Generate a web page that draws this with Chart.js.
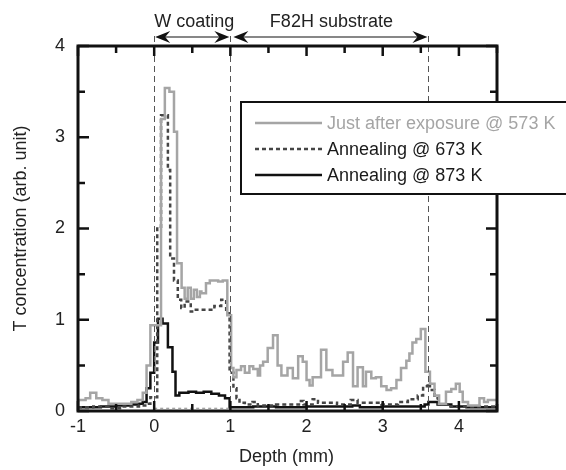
<!DOCTYPE html>
<html lang="en">
<head>
  <meta charset="UTF-8">
  <title>T concentration depth profile</title>
  <script src="https://cdn.jsdelivr.net/npm/chart.js"></script>
  <style>
    body { margin: 0; background: #ffffff; }
    #wrap { width: 566px; height: 470px; }
  </style>
</head>
<body>
  <div id="wrap"><canvas id="depthChart" width="566" height="470"></canvas></div>

  <script>
    // Just after exposure @ 573 K (step start depths / values)
    const exposedDepth = [-1.0, -0.9, -0.84, -0.76, -0.68, -0.6, -0.42, -0.3, -0.22, -0.15, -0.1, -0.05,
      0.09, 0.14, 0.2, 0.26, 0.3, 0.36, 0.4, 0.44, 0.48, 0.52, 0.56, 0.6, 0.62, 0.68, 0.73, 0.84, 0.9, 0.96,
      1.01, 1.04, 1.08, 1.14, 1.19, 1.25, 1.3, 1.36, 1.39, 1.43, 1.49, 1.56, 1.62, 1.67, 1.75, 1.82, 1.89,
      1.95, 2.0, 2.04, 2.08, 2.19, 2.26, 2.34, 2.48, 2.54, 2.61, 2.67, 2.74, 2.78, 2.85, 2.91, 2.98, 3.05,
      3.11, 3.18, 3.24, 3.31, 3.35, 3.39, 3.44, 3.5, 3.56, 3.62, 3.68, 3.74, 3.83, 3.9, 3.96, 4.01, 4.05,
      4.12, 4.27, 4.33, 4.38, 4.5];
    const exposedConc = [0.12, 0.14, 0.2, 0.14, 0.12, 0.08, 0.08, 0.1, 0.12, 0.2, 0.5, 0.94,
      3.2, 3.54, 3.5, 3.06, 1.62, 1.35, 1.23, 1.35, 1.23, 1.33, 1.25, 1.31, 1.29, 1.4, 1.43, 1.42, 1.43, 1.05,
      0.47, 0.37, 0.45, 0.49, 0.42, 0.49, 0.46, 0.39, 0.5, 0.54, 0.69, 0.83, 0.5, 0.39, 0.47, 0.36, 0.6,
      0.54, 0.34, 0.28, 0.37, 0.67, 0.45, 0.39, 0.54, 0.64, 0.27, 0.48, 0.27, 0.43, 0.36, 0.37, 0.27, 0.23,
      0.25, 0.34, 0.47, 0.55, 0.63, 0.75, 0.79, 0.9, 0.43, 0.3, 0.17, 0.08, 0.21, 0.24, 0.3, 0.21, 0.1,
      0.06, 0.14, 0.1, 0.12, 0.12];

    // Annealing @ 673 K
    const anneal673Depth = [-1.0, -0.8, -0.6, -0.4, -0.2, -0.1, -0.05, 0.04, 0.09, 0.18, 0.21, 0.26, 0.31,
      0.355, 0.4, 0.48, 0.53, 0.79, 0.88, 0.945, 0.99, 1.04, 1.08, 1.12, 1.19, 1.29, 1.36, 1.6, 1.9, 1.96,
      2.08, 2.15, 2.4, 2.58, 2.67, 2.98, 3.2, 3.33, 3.46, 3.53, 3.59, 3.62, 3.68, 3.73, 3.85, 4.5];
    const anneal673Conc = [0.04, 0.05, 0.03, 0.05, 0.06, 0.08, 0.15, 2.02, 3.24, 2.64, 1.67, 1.43, 1.22,
      1.13, 1.2, 1.09, 1.11, 1.15, 1.22, 1.07, 0.42, 0.25, 0.14, 0.09, 0.07, 0.1, 0.06, 0.07, 0.11, 0.07,
      0.13, 0.09, 0.07, 0.12, 0.09, 0.07, 0.1, 0.13, 0.17, 0.27, 0.3, 0.23, 0.14, 0.07, 0.05, 0.05];

    // Annealing @ 873 K
    const anneal873Depth = [-1.0, -0.7, -0.5, -0.3, -0.2, -0.15, -0.1, -0.05, 0.0, 0.05, 0.11, 0.18, 0.24,
      0.28, 0.33, 0.45, 0.55, 0.65, 0.75, 0.85, 0.93, 0.99, 1.3, 1.6, 2.0, 2.6, 2.7, 3.0, 3.55, 3.6, 3.72,
      3.9, 4.1, 4.5];
    const anneal873Conc = [0.04, 0.05, 0.06, 0.07, 0.08, 0.1, 0.25, 0.42, 0.75, 1.01, 0.96, 0.7, 0.43,
      0.17, 0.2, 0.21, 0.2, 0.21, 0.19, 0.17, 0.14, 0.04, 0.05, 0.04, 0.05, 0.06, 0.04, 0.05, 0.07, 0.1, 0.07,
      0.05, 0.04, 0.04];

    const seriesLabels = ['Just after exposure @ 573 K', 'Annealing @ 673 K', 'Annealing @ 873 K'];
    const xTickValues = [-1, 0, 1, 2, 3, 4];
    const yTickValues = [0, 1, 2, 3, 4];
    const boundaries = [0, 1, 3.6];          // W / F82H / end of substrate
    const regionLabels = ['W coating', 'F82H substrate'];

    const FONT = '"Liberation Sans", Arial, sans-serif';
    const GRAY = '#a5a5a5';

    function toPoints(xs, ys) {
      return xs.map((x, i) => ({ x: x, y: ys[i] }));
    }

    function arrowHead(ctx, x, y, dir) {
      // dir = +1 points right, -1 points left
      ctx.beginPath();
      ctx.moveTo(x, y);
      ctx.lineTo(x - dir * 15, y - 6);
      ctx.lineTo(x - dir * 10, y);
      ctx.lineTo(x - dir * 15, y + 6);
      ctx.closePath();
      ctx.fill();
    }

    const decorPlugin = {
      id: 'decor',
      afterDraw(chart) {
        const ctx = chart.ctx;
        const a = chart.chartArea;
        const xs = chart.scales.x;
        const ys = chart.scales.y;
        ctx.save();

        // dashed boundary lines
        ctx.strokeStyle = '#555';
        ctx.lineWidth = 1;
        ctx.setLineDash([6, 4]);
        boundaries.forEach(b => {
          const px = Math.round(xs.getPixelForValue(b)) + 0.5;
          ctx.beginPath();
          ctx.moveTo(px, 36);
          ctx.lineTo(px, a.bottom);
          ctx.stroke();
        });
        // thin dashed baseline inside the W layer
        ctx.strokeStyle = '#888';
        ctx.setLineDash([3, 3]);
        ctx.beginPath();
        ctx.moveTo(xs.getPixelForValue(boundaries[0]), ys.getPixelForValue(0.03));
        ctx.lineTo(xs.getPixelForValue(boundaries[1]), ys.getPixelForValue(0.03));
        ctx.stroke();
        ctx.setLineDash([]);

        // frame
        ctx.strokeStyle = '#111';
        ctx.lineWidth = 3;
        ctx.strokeRect(a.left, a.top, a.right - a.left, a.bottom - a.top);

        // inward ticks
        ctx.lineWidth = 2.5;
        for (let v = -1; v <= 4.5001; v += 0.5) {
          const px = xs.getPixelForValue(v);
          const len = Math.abs(v - Math.round(v)) < 1e-6 ? 10 : 7;
          ctx.beginPath();
          ctx.moveTo(px, a.bottom); ctx.lineTo(px, a.bottom - len);
          ctx.moveTo(px, a.top); ctx.lineTo(px, a.top + len);
          ctx.stroke();
        }
        for (let v = 0; v <= 4.0001; v += 0.5) {
          const py = ys.getPixelForValue(v);
          const len = Math.abs(v - Math.round(v)) < 1e-6 ? 11 : 7;
          ctx.beginPath();
          ctx.moveTo(a.left, py); ctx.lineTo(a.left + len, py);
          ctx.moveTo(a.right, py); ctx.lineTo(a.right - len, py);
          ctx.stroke();
        }

        // region arrows and labels
        ctx.fillStyle = '#111';
        ctx.strokeStyle = '#111';
        ctx.lineWidth = 1.2;
        const ay = 37;
        const p0 = xs.getPixelForValue(boundaries[0]);
        const p1 = xs.getPixelForValue(boundaries[1]);
        const p2 = xs.getPixelForValue(boundaries[2]);
        [[p0 + 1, p1 - 1], [p1 + 3, p2 - 1]].forEach(([l, r]) => {
          ctx.beginPath();
          ctx.moveTo(l + 8, ay); ctx.lineTo(r - 8, ay);
          ctx.stroke();
          arrowHead(ctx, l, ay, -1);
          arrowHead(ctx, r, ay, 1);
        });
        ctx.font = '18px ' + FONT;
        ctx.textAlign = 'center';
        ctx.textBaseline = 'alphabetic';
        ctx.fillStyle = '#222';
        ctx.fillText(regionLabels[0], (p0 + p1) / 2 + 2, 27);
        ctx.fillText(regionLabels[1], (p1 + p2) / 2 + 2, 27);

        // axis titles
        ctx.fillText('Depth (mm)', (a.left + a.right) / 2 - 1, 462);
        ctx.save();
        ctx.translate(21, (a.top + a.bottom) / 2);
        ctx.rotate(-Math.PI / 2);
        ctx.textBaseline = 'middle';
        ctx.fillText('T concentration (arb. unit)', 0, 0);
        ctx.restore();

        // legend box (runs off the right edge like the original)
        const bx = 241, by = 102, bw = 340, bh = 92;
        ctx.fillStyle = '#ffffff';
        ctx.fillRect(bx, by, bw, bh);
        ctx.strokeStyle = '#111';
        ctx.lineWidth = 2;
        ctx.strokeRect(bx, by, bw, bh);
        const rows = [123, 149, 175];
        chart.data.datasets.forEach((ds, i) => {
          ctx.strokeStyle = ds.borderColor;
          ctx.lineWidth = ds.borderWidth;
          ctx.setLineDash(ds.borderDash || []);
          ctx.beginPath();
          ctx.moveTo(255, rows[i]);
          ctx.lineTo(322, rows[i]);
          ctx.stroke();
          ctx.setLineDash([]);
          ctx.fillStyle = i === 0 ? GRAY : '#1a1a1a';
          ctx.textAlign = 'left';
          ctx.textBaseline = 'middle';
          ctx.fillText(seriesLabels[i], 327, rows[i] + 1);
        });

        ctx.restore();
      }
    };

    // stepped: 'before' -> each value holds from its depth until the next depth
    new Chart(document.getElementById('depthChart'), {
      type: 'scatter',
      data: {
        datasets: [
          {
            label: seriesLabels[0],
            data: toPoints(exposedDepth, exposedConc),
            showLine: true, stepped: 'before',
            borderColor: GRAY, borderWidth: 2.5,
            pointRadius: 0
          },
          {
            label: seriesLabels[1],
            data: toPoints(anneal673Depth, anneal673Conc),
            showLine: true, stepped: 'before',
            borderColor: '#454545', borderWidth: 2.5, borderDash: [4, 3],
            pointRadius: 0
          },
          {
            label: seriesLabels[2],
            data: toPoints(anneal873Depth, anneal873Conc),
            showLine: true, stepped: 'before',
            borderColor: '#111111', borderWidth: 2.5,
            pointRadius: 0
          }
        ]
      },
      options: {
        responsive: false,
        animation: false,
        layout: { padding: { left: 0, right: 69, top: 46, bottom: 0 } },
        plugins: {
          legend: { display: false },
          tooltip: { enabled: false }
        },
        scales: {
          x: {
            type: 'linear',
            min: -1, max: 4.5,
            afterFit: s => { s.height = 59; },
            afterBuildTicks: s => { s.ticks = xTickValues.map(v => ({ value: v })); },
            grid: { display: false, drawTicks: false },
            border: { display: false },
            ticks: { color: '#222', font: { family: FONT, size: 18 }, padding: 5, maxRotation: 0 }
          },
          y: {
            type: 'linear',
            min: 0, max: 4,
            afterFit: s => { s.width = 78; },
            afterBuildTicks: s => { s.ticks = yTickValues.map(v => ({ value: v })); },
            grid: { display: false, drawTicks: false },
            border: { display: false },
            ticks: { color: '#222', font: { family: FONT, size: 18 }, padding: 13 }
          }
        }
      },
      plugins: [decorPlugin]
    });
  </script>
</body>
</html>
